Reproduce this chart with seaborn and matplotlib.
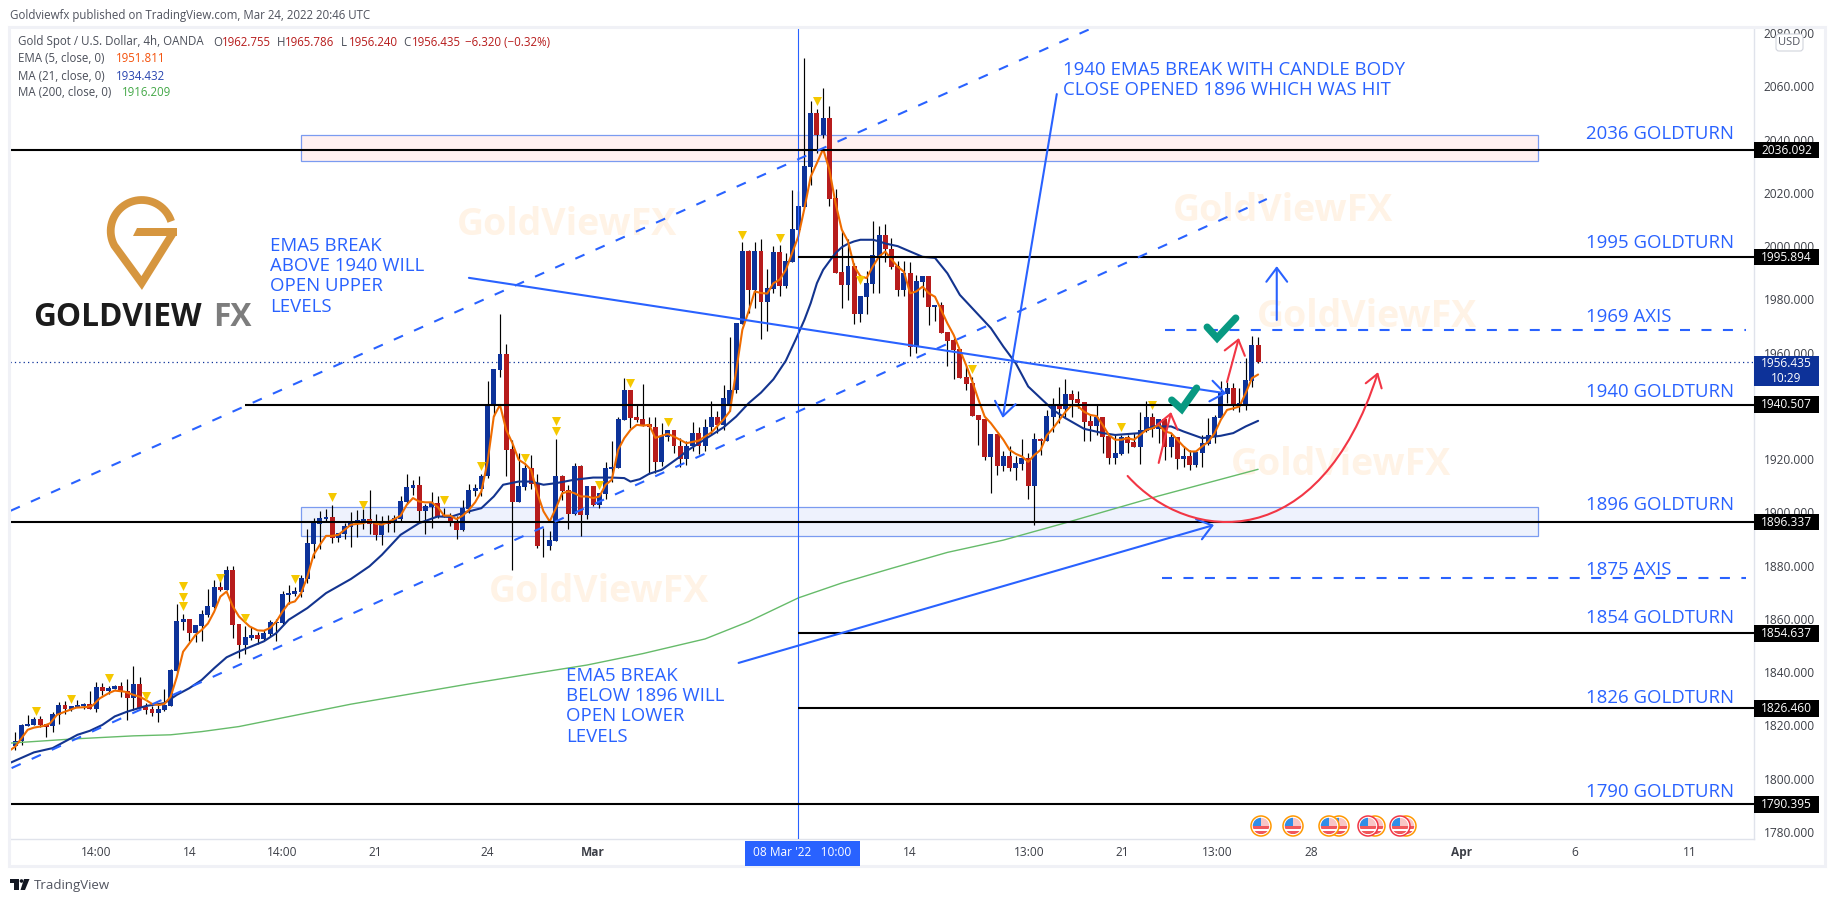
import numpy as np
import matplotlib
matplotlib.use("Agg")
import matplotlib.pyplot as plt
from matplotlib.patches import Rectangle, Circle, FancyArrowPatch, FancyBboxPatch, Polygon
from matplotlib.path import Path
import seaborn as sns

W, H = 1834, 902

# OHLC, one value per 4h bar
opens = [
    1812.3, 1814, 1819.8, 1820.2, 1822.5, 1820.6, 1819.8, 1824, 1827.7, 1826.1,
    1826.9, 1827.3, 1828.1, 1826.2, 1834.5, 1833, 1833.7, 1834.8, 1833, 1830.4,
    1835.6, 1827, 1826.2, 1824.7, 1825.9, 1827.4, 1840.5, 1858.9, 1860, 1854.7,
    1857.4, 1861.6, 1864.4, 1872.1, 1871, 1878.4, 1858.2, 1850.3, 1852.9, 1854.1,
    1852.6, 1854.4, 1858.6, 1858.6, 1869, 1869.5, 1870.2, 1875, 1888.2, 1895.7,
    1897.6, 1898.3, 1890.5, 1891.9, 1894.6, 1896.5, 1896.9, 1897.6, 1896.1, 1891.6,
    1896.9, 1896.1, 1897.6, 1904, 1909.2, 1910.4, 1900.6, 1902, 1903.6, 1899,
    1898.8, 1896.5, 1893.5, 1901.4, 1908.1, 1908.9, 1913.6, 1940.4, 1953.5, 1959.5,
    1923.9, 1904, 1909.6, 1916.8, 1911, 1887.6, 1887.5, 1889.4, 1913.8, 1908.5,
    1899.5, 1917.5, 1899.1, 1910, 1902.9, 1907, 1916.4, 1916.8, 1934.8, 1946,
    1935.9, 1935.2, 1933.3, 1932, 1918.8, 1928.5, 1931, 1925, 1920, 1925,
    1930, 1925, 1932, 1936, 1933, 1940, 1945.8, 1970.9, 1998.3, 1983.6,
    1998.3, 1979.2, 1984, 1997.9, 1985.1, 1994.1, 2006.1, 2014.8, 2029.8, 2050,
    2041.8, 2048.1, 2018.2, 1990.4, 1985.5, 1992.6, 1974.7, 1981, 1985.9, 1996.4,
    2004.3, 1999, 1992.5, 1983.5, 1989.9, 1962.2, 1986.6, 1988.8, 1977.2, 1977.9,
    1967.8, 1964.8, 1961.4, 1950.9, 1948.7, 1936.6, 1935, 1920.8, 1929.4, 1917.5,
    1921.2, 1916.7, 1918.2, 1920.4, 1910, 1927.6, 1926.8, 1935.9, 1940.4, 1938.9,
    1944.6, 1942.7, 1941.5, 1934.4, 1932.5, 1935.9, 1928.8, 1920.5, 1922, 1928.4,
    1926.5, 1924.6, 1930.6, 1935.9, 1931.4, 1935.1, 1924.6, 1928.4, 1920.1, 1921.2,
    1917.9, 1922.4, 1925.8, 1928.8, 1935.5, 1944.5, 1946.8, 1940.4, 1940.8, 1949.4,
    1962.755,
]
highs = [
    1817.6, 1820.6, 1824, 1823.3, 1823.5, 1820.6, 1825.2, 1828.9, 1829.2, 1827.3,
    1829.6, 1828.4, 1833, 1836.4, 1836, 1834.8, 1835.2, 1836.4, 1837.5, 1842.3,
    1838.2, 1828.5, 1827.3, 1827.7, 1833.7, 1841.2, 1865.6, 1861.9, 1860, 1857.7,
    1863.4, 1871.3, 1874.7, 1876, 1879.8, 1879.8, 1858.2, 1857.4, 1856.9, 1855.2,
    1855.9, 1859.7, 1860.1, 1870.6, 1872.8, 1872.1, 1876.6, 1893.7, 1898, 1900.6,
    1901.3, 1902.8, 1892.3, 1896.1, 1900.2, 1901, 1901.4, 1908.5, 1899.5, 1898.8,
    1899.1, 1899.1, 1906.3, 1914.5, 1912.3, 1913.8, 1903, 1907.8, 1906.3, 1901.8,
    1899.9, 1898.8, 1904.8, 1910.8, 1910.8, 1914.5, 1949.4, 1954, 1974.5, 1963.3,
    1927.3, 1922.3, 1918.5, 1921.6, 1914.5, 1894.3, 1893.1, 1927.6, 1914.1, 1910.4,
    1918.5, 1917.9, 1910, 1910, 1907.4, 1919, 1926.9, 1935.8, 1950.5, 1946,
    1940.8, 1948.3, 1935.8, 1935.8, 1933.7, 1931, 1931, 1928, 1927, 1934,
    1932, 1935, 1942, 1938, 1948, 1966, 1971.2, 2001.4, 1998.6, 2001.6,
    2002.8, 1991.5, 2000.1, 2000.5, 1997.4, 2021.1, 2020.8, 2070.5, 2054.5, 2051.5,
    2059.4, 2052.6, 2021.4, 2005.8, 2002.8, 1993.6, 1981.4, 1990.5, 2009.5, 2007.7,
    2008.5, 2003, 1994.5, 1994.4, 1993.9, 1989.2, 1988.8, 1988.8, 1977.9, 1978.9,
    1967.8, 1965.5, 1961.4, 1955, 1950.9, 1936.6, 1935, 1929.4, 1929.4, 1923.1,
    1925, 1921.2, 1927.6, 1922.3, 1929.8, 1928, 1938.4, 1943, 1947.2, 1950.2,
    1946, 1945.7, 1941.5, 1936.6, 1940.6, 1935.9, 1928.8, 1929.2, 1929.1, 1929.1,
    1929.7, 1937.8, 1941.9, 1937.3, 1935.1, 1935.1, 1929.8, 1928.5, 1924.8, 1923.5,
    1923.5, 1928.9, 1935.4, 1936.6, 1949.4, 1949, 1948.5, 1946.6, 1957.9, 1966.3,
    1965.786,
]
lows = [
    1810.9, 1812.5, 1819.8, 1820.2, 1819.3, 1815.8, 1817.7, 1820.6, 1824.4, 1825.5,
    1826.9, 1826.2, 1826.2, 1825.1, 1831.5, 1831.9, 1833.7, 1830.7, 1822.1, 1825.9,
    1826.2, 1824.4, 1823.6, 1821.4, 1825.5, 1827.4, 1839.9, 1855.9, 1851.6, 1851.2,
    1851.8, 1860.7, 1864.1, 1870.6, 1871, 1852.8, 1845.3, 1846.9, 1852.2, 1850.7,
    1852.2, 1853.7, 1851.9, 1858.2, 1865.7, 1868.7, 1868.2, 1873.6, 1882.8, 1886.3,
    1896.6, 1888.6, 1889, 1890.1, 1887.1, 1890.9, 1893.9, 1892, 1889.8, 1887.9,
    1892.8, 1892.8, 1896.9, 1903.3, 1906.6, 1896.5, 1892, 1894.3, 1897.9, 1898.3,
    1895, 1890.1, 1893.1, 1899.9, 1906, 1906.3, 1912.9, 1936.3, 1951, 1913.8,
    1878.5, 1904, 1908.5, 1908.9, 1886.8, 1883.4, 1886, 1889.4, 1904.8, 1893.9,
    1899.1, 1891.3, 1897.6, 1902.5, 1901.8, 1905.1, 1911.5, 1916.8, 1934.8, 1931.7,
    1933.8, 1932.3, 1914.5, 1915, 1917.5, 1926.7, 1922.3, 1917, 1918, 1923,
    1922, 1923, 1929, 1930, 1931, 1938, 1945, 1970.9, 1975, 1976.6,
    1965, 1968.3, 1982.4, 1981.4, 1984.3, 1994.1, 2006.1, 2014.8, 2022.8, 2034.9,
    2040.5, 2014.9, 1989.9, 1976.6, 1979.9, 1970.9, 1971.4, 1974.6, 1982.3, 1982.3,
    1994.2, 1991.5, 1981.3, 1981.3, 1958.8, 1960, 1981, 1970.4, 1971.9, 1967.4,
    1955, 1950.2, 1950.5, 1946, 1936.3, 1925.3, 1919.7, 1907.3, 1914.1, 1915.6,
    1915.6, 1912.2, 1916, 1905.1, 1895.3, 1921.6, 1926.8, 1930.3, 1933.6, 1936,
    1935.8, 1939.2, 1926.9, 1926.9, 1929.1, 1922.2, 1918.3, 1918.3, 1921.6, 1922.2,
    1924.6, 1918.3, 1930.3, 1928.5, 1926, 1919.8, 1921, 1916.5, 1917.2, 1916,
    1917.2, 1917.2, 1925.4, 1926, 1935.5, 1941, 1938.5, 1937.9, 1938.5, 1947,
    1956.24,
]
closes = [
    1814.2, 1820.2, 1820.6, 1822.5, 1820.2, 1819.6, 1824.3, 1827.7, 1826.2, 1827.3,
    1827.7, 1828.1, 1826.2, 1834.5, 1833, 1834.1, 1834.8, 1832.6, 1830.4, 1835.6,
    1826.6, 1825.8, 1824.7, 1826.2, 1827.7, 1840.9, 1859.2, 1860, 1854.7, 1857.7,
    1861.8, 1865, 1872.1, 1871, 1878.4, 1857.8, 1850.3, 1853.3, 1854.1, 1852.6,
    1854.8, 1858.9, 1859, 1869.5, 1869.8, 1870.6, 1875.4, 1888.6, 1896.1, 1898,
    1898.3, 1890.5, 1892.3, 1895, 1896.9, 1897.3, 1897.6, 1895.8, 1891.6, 1896.9,
    1895.8, 1898, 1904.4, 1909.6, 1910.4, 1900.6, 1902.5, 1903.6, 1898.4, 1898.5,
    1896.1, 1893.5, 1901.8, 1908.5, 1909.3, 1913.8, 1940.8, 1953.9, 1959.5, 1923.5,
    1904, 1910, 1916.8, 1910.8, 1887.5, 1887.9, 1889.8, 1913.8, 1908.1, 1899.5,
    1917.5, 1899.1, 1910, 1902.9, 1907.4, 1916.8, 1917.1, 1935.2, 1946, 1935.6,
    1934.8, 1932.5, 1932, 1918.8, 1928.8, 1931, 1925, 1920, 1925, 1930,
    1925, 1932, 1936, 1933, 1943, 1946, 1971.2, 1998.3, 1983.6, 1998.3,
    1979.2, 1984.4, 1997.9, 1985.1, 1994.5, 2006.5, 2015.2, 2030.2, 2050, 2041.8,
    2048.1, 2017.8, 1990.1, 1985.5, 1992.6, 1974.7, 1981.4, 1986.3, 1996.8, 2004.3,
    1999, 1992.3, 1983.5, 1989.9, 1962.2, 1987, 1988.8, 1977.3, 1977.9, 1967.4,
    1964.4, 1961, 1950.5, 1948.3, 1936.3, 1934.7, 1920.8, 1929.4, 1917.5, 1921.2,
    1916.7, 1918.6, 1920.4, 1910, 1927.6, 1926.8, 1936.2, 1940.4, 1938.9, 1944.6,
    1942.3, 1941, 1934, 1932.5, 1935.9, 1928.4, 1920.5, 1922.4, 1928.4, 1926.1,
    1924.6, 1931, 1935.9, 1931.4, 1935.1, 1924.6, 1928.4, 1920.1, 1921.2, 1917.9,
    1922.8, 1926.1, 1929.1, 1935.9, 1944.9, 1946.8, 1940.4, 1941, 1949.8, 1962.9,
    1956.435,
]

ema_bars = [
    -0.7, 0, 1, 2, 3, 4.5, 5.6, 6.7, 8, 9.8, 11.4, 12.4, 13.6, 15, 16, 17.6, 19, 20, 21, 22,
    23.2, 24, 25, 26, 27, 28, 29, 30, 31, 32, 33, 34, 35, 36, 37.7, 39, 40, 41, 42, 43,
    44, 45, 46, 47, 48, 49, 50, 51, 52, 53, 54, 56, 57, 58, 59, 60, 61, 62, 63, 64,
    65, 66, 67, 68, 69, 70, 71, 72, 73, 74, 75, 76, 77, 78, 79, 80, 81, 82, 83, 84,
    85, 86, 87, 88, 89, 90, 91, 92, 93, 94, 95, 96, 97, 98, 99, 100, 101, 102, 103, 104,
    105, 106, 108, 110, 112, 114, 115, 116, 117, 118, 119, 120, 121, 122, 123, 124, 125, 126, 127, 128,
    129, 130, 131, 132, 133, 134, 135, 136, 137, 138, 139, 140, 141, 142, 143, 144, 145, 146, 147, 148,
    149, 150, 151, 152, 153, 154, 155, 156, 157, 158, 159, 160, 161, 162, 163, 164, 165, 166, 167, 168,
    169, 170, 171, 172, 173, 174, 175, 176, 177, 178, 179, 180, 181, 182, 183, 184, 185, 186, 187, 188,
    189, 190, 191, 192, 193, 194, 195, 196, 197, 198, 199, 200,
]
ema5 = [
    1810.9, 1812.1, 1815.2, 1818.4, 1819.2, 1819.8, 1820.8, 1824, 1825.2, 1826.7, 1826.9, 1827.4, 1830.2, 1832.1, 1833.1, 1832.7, 1831.5, 1830.8, 1829.6, 1828.1,
    1827.7, 1828.1, 1830.8, 1838.3, 1847.7, 1850.8, 1854, 1855.9, 1858.3, 1862.7, 1868.4, 1870.3, 1864.7, 1860.9, 1857.2, 1855.7, 1855.6, 1856.6, 1859, 1862.8,
    1865.9, 1866.6, 1869.7, 1875.9, 1884.1, 1887.8, 1891.2, 1891.2, 1891.6, 1893.5, 1895.4, 1896, 1896.9, 1895.8, 1895.4, 1896.4, 1897.5, 1898.8, 1902.9, 1905.4,
    1904.1, 1903.8, 1903.8, 1902, 1898.8, 1898.8, 1897.5, 1898.8, 1901, 1903.8, 1907.9, 1919.1, 1936, 1940.4, 1931, 1926, 1919.8, 1918.3, 1916, 1907.3,
    1900.4, 1896.6, 1901.6, 1907.2, 1907.9, 1907.2, 1906, 1906, 1905.4, 1906, 1910.4, 1912.3, 1923.5, 1927.9, 1931, 1932.9, 1932.6, 1932.9, 1928, 1928.8,
    1929.5, 1928.5, 1926, 1927, 1930, 1935, 1938, 1953, 1968.6, 1975.5, 1983, 1982.4, 1982.2, 1986.1, 1987.4, 1991.1, 1997.4, 2003.6, 2014.3, 2026.1,
    2031.2, 2036.5, 2028.7, 2016.1, 2006.2, 2001.8, 1992.4, 1988.7, 1988, 1992.4, 1996.1, 1998, 1995, 1992.3, 1990.4, 1982.3, 1983, 1984.8, 1982.3, 1981,
    1976, 1971, 1966.7, 1961, 1955.4, 1949.2, 1942.3, 1936, 1933.5, 1930.4, 1927.3, 1923.5, 1922, 1921, 1919, 1921.6, 1923.5, 1929, 1931.6, 1934.7,
    1937.8, 1940.3, 1940, 1937.8, 1936.6, 1936.2, 1932.8, 1929, 1927.3, 1927.3, 1927.9, 1927.3, 1929.1, 1931, 1931.6, 1932.9, 1930.4, 1929.8, 1927.3, 1924.8,
    1922.9, 1922.9, 1924.8, 1926.6, 1929.8, 1934.8, 1938.5, 1939.1, 1939.8, 1944.8, 1950.4, 1951.8,
]
ma21_bars = [
    -0.7, 3, 6, 8, 10, 12, 14, 16, 18, 21, 24, 26, 28, 30, 32, 34, 36, 40, 42, 44,
    47, 50, 54, 57, 59, 62, 65, 68, 70, 72, 75, 77, 78.5, 81, 83, 85, 87, 90, 93, 96,
    98, 99, 100.5, 102, 104, 107, 108, 110, 112, 114, 116, 118, 120, 122, 124, 125.6, 127, 128, 129, 130,
    131, 132, 133, 134, 135, 136, 138, 139, 140, 142, 144, 146, 148, 150, 152, 154, 157, 159, 161, 163,
    165, 167, 169, 172, 175, 177, 181, 183, 186, 188, 191, 194, 196, 198, 200,
]
ma21 = [
    1806.1, 1809.9, 1811.5, 1814, 1816.5, 1818, 1820.2, 1823.4, 1825.2, 1827.3, 1828.4, 1831.5, 1834, 1837.1, 1841.5, 1845.6, 1847.8, 1851.6, 1854.7, 1859.7,
    1864.1, 1869.7, 1875, 1879.8, 1884.1, 1891.6, 1896, 1898.5, 1898.3, 1899.8, 1901.6, 1906, 1910.4, 1911.6, 1911.6, 1910.4, 1911, 1912.3, 1913.1, 1913.1,
    1912.9, 1911.6, 1912.5, 1914.5, 1916, 1921, 1923, 1926, 1929, 1932, 1936, 1941, 1945, 1950, 1957, 1965, 1972.4, 1978.6, 1986.1, 1991.1,
    1994.3, 1997.4, 1999.6, 2000.9, 2001.8, 2002.4, 2002.4, 2001.8, 2001, 2000, 1998, 1996, 1995.6, 1989.8, 1981.7, 1976.7, 1969.2, 1962.3, 1956, 1947.3,
    1942.9, 1938.5, 1935.4, 1931.4, 1929.8, 1929.1, 1929.8, 1932.3, 1932.3, 1930.4, 1927.9, 1928.8, 1929.8, 1932.3, 1934.4,
]
ma200_bars = [-0.7, 9, 19, 25, 30, 36, 45, 54, 63, 73, 82, 92, 101, 111, 118, 126, 133, 141, 150, 159, 169, 184, 200]
ma200 = [1813.4, 1814.9, 1816.1, 1816.5, 1817.7, 1819.6, 1823.8, 1828, 1831.6, 1835.6, 1839, 1842.7, 1847, 1852.5, 1859, 1867.9, 1873.5, 1879, 1885, 1889.6, 1896.1, 1906.2, 1916.2]

mark_bars = [
    3.3, 9, 15, 21, 27, 27, 27, 33, 37, 45, 51, 56, 69, 75, 82, 87, 87, 94, 99, 105,
    117, 123, 129, 136, 154, 178, 183,
]
mark_prices = [
    1825.4, 1829.9, 1837.7, 1831.2, 1864.7, 1868.4, 1872.2, 1875.3, 1860.3, 1875, 1905.7, 1902.8, 1904.8, 1917.5, 1920.4, 1930.4, 1934.4, 1910.4, 1948.5, 1933.9,
    2004.3, 2003, 2054.4, 1987.4, 1953.9, 1932, 1940.3,
]

level_prices = [2036.092, 1995.894, 1940.507, 1896.337, 1854.637, 1826.46, 1790.395]
level_starts = [-1, 126, 36.9, -1, 126, 126, -1]
level_names = ["2036 GOLDTURN", "1995 GOLDTURN", "1940 GOLDTURN", "1896 GOLDTURN", "1854 GOLDTURN", "1826 GOLDTURN", "1790 GOLDTURN"]
level_text_y = [134, 243, 392, 505, 618, 698, 792]

price_ticks = list(range(1780, 2081, 20))
time_ticks = [13, 28, 43, 58, 76, 93, 144, 163.1, 178.2, 193.5, 208.5, 232.8, 250.9, 269.4]
time_labels = ["14:00", "14", "14:00", "21", "24", "Mar", "14", "13:00", "21", "13:00", "28", "Apr", "6", "11"]

BLUE = "#2962ff"
BAR_BLUE = "#0d3299"
BAR_RED = "#b71c1c"
TXT = "#4a4e59"

sns.set_theme(style="white")
plt.rcParams["font.family"] = ["Open Sans", "DejaVu Sans"]

fig = plt.figure(figsize=(W / 100, H / 100), dpi=100, facecolor="white")
ax = fig.add_axes([10 / W, 1 - 839 / H, 1744 / W, 812 / H])
ov = fig.add_axes([0, 0, 1, 1], zorder=10)
ov.set_xlim(0, W)
ov.set_ylim(H, 0)
ov.axis("off")
ov.patch.set_alpha(0)

ax.set_xlim(-0.853, 279.8)
ax.set_ylim(1777.37, 2082.3)

# ── Drawn zones and watermarks ────────────────────────────────────────────────
for low, high, fill in [(2032, 2041.7, "#fff0f0"), (1891.3, 1901.9, "#eef2fd")]:
    ax.add_patch(Rectangle((46, low), 199, high - low, facecolor=fill, edgecolor="#7b9bf0", lw=0.9, zorder=1))

for wx, wy in [(457, 225), (1173, 211), (1257, 317), (1231, 465), (489, 592)]:
    ax.text(wx, wy, "GoldViewFX", transform=ov.transData, fontsize=27, fontweight="bold",
            color="#fff3e6", va="center", ha="left", zorder=1.5)

# ── Candles ───────────────────────────────────────────────────────────────────
bars = np.arange(len(opens))
o, h, l, c = map(np.array, (opens, highs, lows, closes))
up = c >= o
ax.vlines(bars, l, h, color="black", lw=0.85, zorder=3)
ax.bar(bars[up], (c - o)[up], bottom=o[up], width=0.8, color=BAR_BLUE, linewidth=0, zorder=3.2)
ax.bar(bars[~up], (c - o)[~up], bottom=o[~up], width=0.8, color=BAR_RED, linewidth=0, zorder=3.2)

sns.lineplot(x=ma200_bars, y=ma200, color="#66bb6a", lw=1.0, ax=ax, zorder=4, legend=False)
sns.lineplot(x=ma21_bars, y=ma21, color="#13348f", lw=1.5, ax=ax, zorder=4, legend=False)
sns.lineplot(x=ema_bars, y=ema5, color="#ef6c00", lw=1.5, ax=ax, zorder=4.2, legend=False)
sns.scatterplot(x=mark_bars, y=mark_prices, marker="v", s=42, color="#f5c800", linewidth=0, ax=ax, zorder=4.5, legend=False)

# ── Levels and trendlines ─────────────────────────────────────────────────────
ax.axhline(1956.435, color=BAR_BLUE, lw=0.9, ls=(0, (1, 2.5)), zorder=2.5)
ax.axvline(126, color=BLUE, lw=0.8, zorder=5)
for start, price in zip(level_starts, level_prices):
    ax.hlines(price, start, 279.8, color="black", lw=1.5, zorder=5)
for price, start_bar in [(1968.5, 185), (1875.5, 184.5)]:
    ax.plot([start_bar, 278.5], [price, price], color=BLUE, lw=1.5, ls=(0, (4.8, 5.5)), zorder=5)

ax.plot([-0.74, 172.9], [1900.65, 2081.5], color=BLUE, lw=1.5, ls=(0, (4.8, 5.8)), zorder=5)
ax.plot([-0.6, 201.4], [1804, 2017.7], color=BLUE, lw=1.5, ls=(0, (4.8, 5.8)), zorder=5)

for start, end, col in [
    ((73, 1988.1), (194.9, 1944.7), BLUE),
    ((167.6, 2057.1), (158.9, 1935.5), BLUE),
    ((203, 1972.3), (203, 1992.5), BLUE),
    ((116.4, 1843.5), (192.9, 1895.3), BLUE),
    ((184, 1918.6), (186, 1937.7), "#f23645"),
    ((195, 1949), (196.9, 1965.5), "#f23645"),
]:
    ax.annotate("", xy=end, xytext=start, zorder=6,
                arrowprops=dict(arrowstyle="->,head_length=1.0,head_width=0.75", color=col, lw=1.5,
                                mutation_scale=10, shrinkA=0, shrinkB=0))

curve = Path([(179, 1913.7), (189, 1887.8), (209.9, 1884), (219.3, 1952.7)],
             [Path.MOVETO, Path.CURVE4, Path.CURVE4, Path.CURVE4])
ax.add_patch(FancyArrowPatch(path=curve, arrowstyle="->,head_length=9,head_width=6", color="#f23645",
                             lw=1.5, zorder=6, shrinkA=0, shrinkB=0))

for pts in [[(186.1, 1942.2), (187.7, 1938.8), (190.1, 1946.7)], [(191.8, 1969.6), (193.4, 1965.5), (196.4, 1973)]]:
    ax.plot(*zip(*pts), color="#089981", lw=5.2, solid_capstyle="round", solid_joinstyle="miter", zorder=7)

# ── Axes ──────────────────────────────────────────────────────────────────────
ax.yaxis.tick_right()
ax.set_yticks(price_ticks)
ax.set_yticklabels([f"{p:.3f}" for p in price_ticks], fontsize=8.6, color="#3c3f47")
ax.set_xticks(time_ticks)
ax.set_xticklabels(time_labels, fontsize=8.6, color="#3c3f47")
for lab in ax.get_xticklabels():
    if lab.get_text() in ("Mar", "Apr"):
        lab.set_fontweight("bold")
ax.tick_params(axis="both", length=0)
ax.tick_params(axis="y", pad=7)
ax.tick_params(axis="x", pad=5)
ax.grid(False)
for side in ["left", "top"]:
    ax.spines[side].set_visible(False)
for side in ["right", "bottom"]:
    ax.spines[side].set_color("#e0e3eb")
    ax.spines[side].set_linewidth(1.0)

# price tags on the axis
ytrans = ax.get_yaxis_transform()
tag_w = 65 / 1744
for price in level_prices:
    ax.add_patch(Rectangle((1, price - 3.1), tag_w, 6.2, transform=ytrans, clip_on=False, facecolor="black", lw=0, zorder=20))
    ax.text(1 + tag_w / 2, price - 0.1, f"{price:.3f}", transform=ytrans, color="white", fontsize=8.6,
            ha="center", va="center", zorder=21, clip_on=False)
ax.add_patch(Rectangle((1, 1947.5), tag_w, 11.3, transform=ytrans, clip_on=False, facecolor=BAR_BLUE, lw=0, zorder=20))
ax.text(1 + tag_w / 2, 1956.1, "1956.435", transform=ytrans, color="white", fontsize=8.6, ha="center", va="center", zorder=21)
ax.text(1 + tag_w / 2, 1950.4, "10:29", transform=ytrans, color="white", fontsize=8.6, ha="center", va="center", zorder=21)

# ── Frame, header and text in image pixels ────────────────────────────────────
ov.add_patch(Rectangle((9, 27), 1816, 839, facecolor="none", edgecolor="#f0f1f6", lw=2.2))
ov.text(10, 15, "Goldviewfx published on TradingView.com, Mar 24, 2022 20:46 UTC", fontsize=8.3, color="#50535e", va="center")

hdr = 8.3
ov.text(18, 42, "Gold Spot / U.S. Dollar, 4h, OANDA", fontsize=hdr, color=TXT, va="center")
for hx, part, col in [(213, "O", TXT), (222, "1962.755", BAR_RED), (277, "H", TXT), (285, "1965.786", BAR_RED),
                      (341, "L", TXT), (349, "1956.240", BAR_RED), (403, "C", TXT), (412, "1956.435", BAR_RED),
                      (465, "−6.320 (−0.32%)", BAR_RED)]:
    ov.text(hx, 42, part, fontsize=hdr, color=col, va="center")
for ly, name, vx, val, col in [(59, "EMA (5, close, 0)", 116, "1951.811", "#f4510b"),
                               (76, "MA (21, close, 0)", 116, "1934.432", "#2a46b0"),
                               (93, "MA (200, close, 0)", 122, "1916.209", "#43a847")]:
    ov.text(18, ly, name, fontsize=hdr, color=TXT, va="center")
    ov.text(vx, ly, val, fontsize=hdr, color=col, va="center")

note = 13.4
for name, ty in zip(level_names, level_text_y):
    ov.text(1586, ty, name, fontsize=note, color=BLUE, va="center")
ov.text(1586, 317, "1969 AXIS", fontsize=note, color=BLUE, va="center")
ov.text(1586, 570, "1875 AXIS", fontsize=note, color=BLUE, va="center")

for tx, ty, block in [
    (270, 246, ["EMA5 BREAK", "ABOVE 1940 WILL", "OPEN UPPER", "LEVELS"]),
    (566, 676, ["EMA5 BREAK", "BELOW 1896 WILL", "OPEN LOWER", "LEVELS"]),
    (1063, 70, ["1940 EMA5 BREAK WITH CANDLE BODY", "CLOSE OPENED 1896 WHICH WAS HIT"]),
]:
    for k, line in enumerate(block):
        ov.text(tx, ty + k * 20.2, line, fontsize=note, color=BLUE, va="center")

# USD badge
ov.add_patch(FancyBboxPatch((1778, 36), 23, 13, boxstyle="round,pad=2,rounding_size=3", facecolor="white", edgecolor="#d1d4dc", lw=0.8))
ov.text(1789.5, 42.5, "USD", fontsize=8, color="#50535e", ha="center", va="center")

# date tag on the time axis
ov.add_patch(Rectangle((745, 841), 115, 25, facecolor=BLUE, lw=0))
ov.text(802, 853, "08 Mar '22   10:00", fontsize=8.6, color="white", ha="center", va="center")

# GoldView logo
theta = np.radians(np.linspace(18, 208, 40))
pin_x = list(141.7 + 31 * np.cos(theta)) + [141.7, 173]
pin_y = list(231 - 31 * np.sin(theta)) + [283, 233]
ov.plot(pin_x, pin_y, color="#d6963f", lw=5.6, solid_joinstyle="miter", solid_capstyle="butt")
ov.add_patch(Polygon([(137, 228), (177, 228), (177, 235.5), (133, 235.5)], facecolor="#d6963f", lw=0))
ov.text(33, 318, "GOLDVIEW", fontsize=22.8, fontweight="bold", color="#1c1c1c", va="center")
ov.text(213, 318, "FX", fontsize=22.8, fontweight="bold", color="#7d7d7d", va="center")

# US event flags
for fx, ring in [(1261, "#ff9800"), (1293, "#ff9800"), (1339, "#ff9800"), (1329, "#ff9800"),
                 (1375, "#ff9800"), (1368, "#f23645"), (1406, "#ff9800"), (1400, "#f23645")]:
    disc = Circle((fx, 826), 10, facecolor="white", edgecolor=ring, lw=1.1)
    ov.add_patch(disc)
    inner = Circle((fx, 826), 8.2, transform=ov.transData)
    for sy, sh, col in [(818, 8, "#f9c5c5"), (826, 2.6, "#f0585c"), (831, 3.2, "#f0585c")]:
        r = Rectangle((fx - 9, sy), 18, sh, facecolor=col, lw=0)
        ov.add_patch(r)
        r.set_clip_path(inner)
    r = Rectangle((fx - 9, 817), 9, 9, facecolor="#2f8ee8", lw=0)
    ov.add_patch(r)
    r.set_clip_path(inner)

# TradingView mark
ov.add_patch(Rectangle((10, 879), 9, 3.5, facecolor="#131722", lw=0))
ov.add_patch(Rectangle((14, 879), 4.5, 11, facecolor="#131722", lw=0))
ov.add_patch(Circle((21.5, 881), 1.8, facecolor="#131722", lw=0))
ov.add_patch(Polygon([(24, 879), (29.5, 879), (25, 890), (20.5, 890)], facecolor="#131722", lw=0))
ov.text(34, 885, "TradingView", fontsize=9.5, color="#50535e", va="center")

fig.savefig("out.png", dpi=100)
plt.close(fig)
